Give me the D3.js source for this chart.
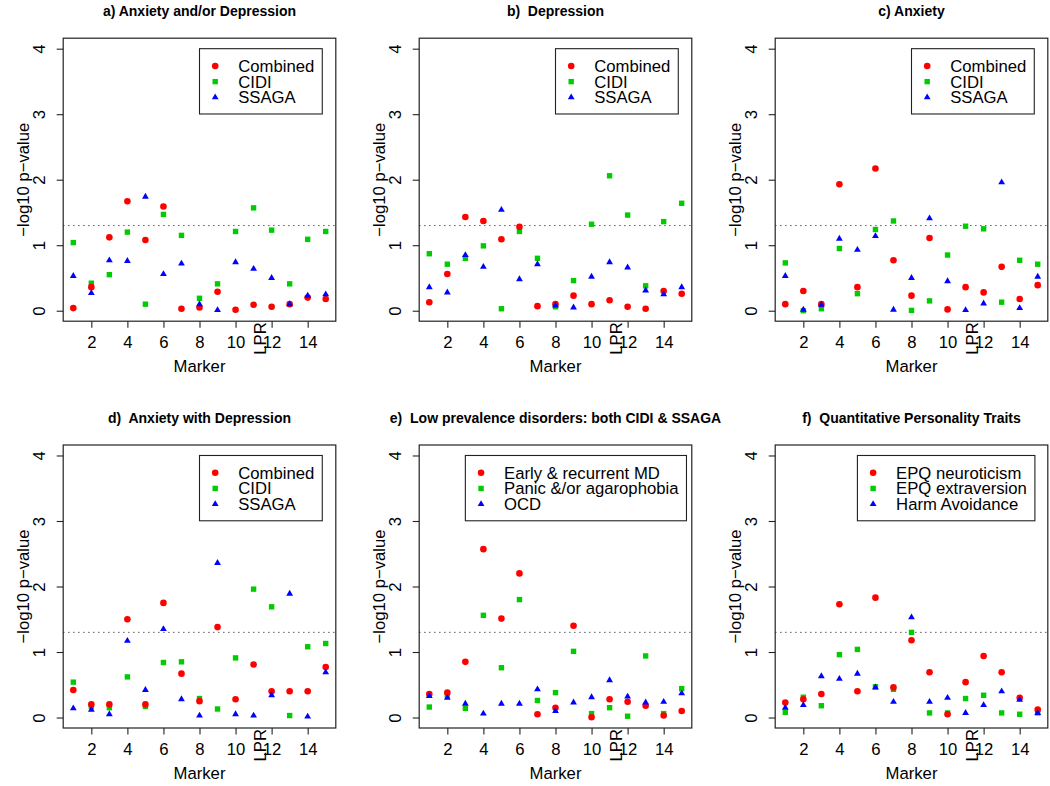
<!DOCTYPE html>
<html>
<head>
<meta charset="utf-8">
<script src="https://cdn.jsdelivr.net/npm/d3@7"></script>
<style>
  body { margin: 0; background: #fff; }
  svg { font-family: "Liberation Sans", Arial, Helvetica, sans-serif; }
</style>
</head>
<body>
<div id="chart"></div>
<script>
// ------------------------------------------------------------------ //
// DATA  (-log10 p-values read per marker)
// ------------------------------------------------------------------ //
const markers = [1, 2, 3, 4, 5, 6, 7, 8, 9, 10, 11, 12, 13, 14, 15];
const xTicks = [2, 4, 6, 8, 10, 12, 14];
const lprMarker = 11;
const lprLabel = "LPR";
const yTicks = [0, 1, 2, 3, 4];
const threshold = 1.3;

// a) Anxiety and/or Depression
const aCombined = [0.04, 0.36, 1.12, 1.67, 1.08, 1.59, 0.03, 0.05, 0.29, 0.015, 0.09, 0.06, 0.10, 0.20, 0.18];
const aCIDI     = [1.04, 0.42, 0.55, 1.20, 0.10, 1.47, 1.15, 0.19, 0.41, 1.21, 1.57, 1.23, 0.41, 1.09, 1.21];
const aSSAGA    = [0.53, 0.27, 0.77, 0.76, 1.74, 0.56, 0.72, 0.10, 0.01, 0.74, 0.64, 0.50, 0.10, 0.23, 0.25];

// b) Depression
const bCombined = [0.13, 0.56, 1.43, 1.37, 1.09, 1.28, 0.07, 0.10, 0.23, 0.10, 0.16, 0.06, 0.03, 0.30, 0.26];
const bCIDI     = [0.87, 0.71, 0.80, 0.99, 0.03, 1.21, 0.80, 0.06, 0.46, 1.32, 2.06, 1.46, 0.38, 1.36, 1.64];
const bSSAGA    = [0.36, 0.28, 0.85, 0.67, 1.54, 0.48, 0.71, 0.08, 0.05, 0.52, 0.74, 0.66, 0.31, 0.25, 0.36];

// c) Anxiety
const cCombined = [0.10, 0.30, 0.10, 1.93, 0.36, 2.17, 0.77, 0.23, 1.11, 0.02, 0.36, 0.28, 0.67, 0.18, 0.39];
const cCIDI     = [0.73, 0.00, 0.03, 0.95, 0.26, 1.24, 1.37, 0.005, 0.15, 0.85, 1.29, 1.25, 0.13, 0.77, 0.71];
const cSSAGA    = [0.53, 0.015, 0.09, 1.10, 0.93, 1.14, 0.015, 0.50, 1.41, 0.45, 0.01, 0.11, 1.96, 0.04, 0.52];

// d) Anxiety with Depression
const dCombined = [0.42, 0.20, 0.20, 1.50, 0.20, 1.75, 0.67, 0.25, 1.38, 0.28, 0.81, 0.40, 0.40, 0.40, 0.77];
const dCIDI     = [0.54, 0.17, 0.15, 0.62, 0.17, 0.84, 0.85, 0.29, 0.13, 0.91, 1.96, 1.69, 0.03, 1.08, 1.13];
const dSSAGA    = [0.14, 0.12, 0.05, 1.17, 0.42, 1.35, 0.28, 0.03, 2.36, 0.05, 0.03, 0.34, 1.89, 0.015, 0.69];

// e) Low prevalence disorders
const eEarlyMD  = [0.36, 0.38, 0.85, 2.57, 1.51, 2.20, 0.05, 0.15, 1.40, 0.005, 0.28, 0.24, 0.18, 0.03, 0.10];
const ePanic    = [0.16, 0.34, 0.14, 1.56, 0.76, 1.80, 0.26, 0.38, 1.01, 0.06, 0.15, 0.02, 0.94, 0.06, 0.44];
const eOCD      = [0.33, 0.30, 0.21, 0.06, 0.21, 0.21, 0.43, 0.10, 0.23, 0.31, 0.57, 0.32, 0.23, 0.24, 0.37];

// f) Quantitative Personality Traits
const fNeuro    = [0.23, 0.28, 0.36, 1.73, 0.40, 1.83, 0.46, 1.18, 0.69, 0.05, 0.54, 0.94, 0.69, 0.30, 0.12];
const fExtra    = [0.08, 0.31, 0.18, 0.96, 1.04, 0.47, 0.43, 1.30, 0.07, 0.07, 0.29, 0.34, 0.07, 0.05, 0.07];
const fHarm     = [0.15, 0.19, 0.63, 0.59, 0.67, 0.46, 0.24, 1.53, 0.24, 0.30, 0.07, 0.19, 0.40, 0.27, 0.07];

const titles = [
  "a) Anxiety and/or Depression",
  "b)  Depression",
  "c) Anxiety",
  "d)  Anxiety with Depression",
  "e)  Low prevalence disorders: both CIDI & SSAGA",
  "f)  Quantitative Personality Traits"
];
const legendLabels = [
  ["Combined", "CIDI", "SSAGA"],
  ["Combined", "CIDI", "SSAGA"],
  ["Combined", "CIDI", "SSAGA"],
  ["Combined", "CIDI", "SSAGA"],
  ["Early & recurrent MD", "Panic &/or agarophobia", "OCD"],
  ["EPQ neuroticism", "EPQ extraversion", "Harm Avoidance"]
];
// series order: red circle, green square, blue triangle
const panelSeries = [
  [aCombined, aCIDI, aSSAGA],
  [bCombined, bCIDI, bSSAGA],
  [cCombined, cCIDI, cSSAGA],
  [dCombined, dCIDI, dSSAGA],
  [eEarlyMD, ePanic, eOCD],
  [fNeuro, fExtra, fHarm]
];
const legendAtMarker = [8, 8, 8, 8, 3, 5];

// ------------------------------------------------------------------ //
// LAYOUT
// ------------------------------------------------------------------ //
const W = 1050, H = 786;
const colLeft = [63.2, 419.2, 775.2];
const rowTop = [38.2, 445.0];
const boxW = 272.6, boxH = 283;
const fs = 16.7;

const colors = ["#FF0000", "#00CD00", "#0000FF"];
const shapes = ["circle", "square", "triangle"];

const svg = d3.select("#chart").append("svg")
  .attr("width", W)
  .attr("height", H);

svg.append("rect").attr("width", W).attr("height", H).attr("fill", "#fff");

// marker shape drawer
function drawMark(g, shape, cx, cy, color) {
  if (shape === "circle") {
    g.append("circle").attr("cx", cx).attr("cy", cy).attr("r", 3.3).attr("fill", color);
  } else if (shape === "square") {
    g.append("rect").attr("x", cx - 2.7).attr("y", cy - 2.7)
      .attr("width", 5.4).attr("height", 5.4).attr("fill", color);
  } else {
    g.append("path")
      .attr("d", "M" + cx + "," + (cy - 3.9) + "L" + (cx + 3.4) + "," + (cy + 2.0) +
                 "L" + (cx - 3.4) + "," + (cy + 2.0) + "Z")
      .attr("fill", color);
  }
}

// ------------------------------------------------------------------ //
// PANELS
// ------------------------------------------------------------------ //
panelSeries.forEach(function(series, p) {
  const left = colLeft[p % 3];
  const top = rowTop[Math.floor(p / 3)];

  const x = d3.scaleLinear().domain([0.44, 15.56]).range([left, left + boxW]);
  const y = d3.scaleLinear().domain([-0.16, 4.16]).range([top + boxH, top]);

  const g = svg.append("g");

  // title
  g.append("text")
    .attr("x", left + boxW / 2)
    .attr("y", top - 22)
    .attr("text-anchor", "middle")
    .attr("font-weight", "bold")
    .attr("font-size", 14)
    .style("white-space", "pre")
    .text(titles[p]);

  // x axis
  const xAxis = g.append("g")
    .attr("transform", "translate(0," + (top + boxH) + ")")
    .call(d3.axisBottom(x).tickValues(xTicks).tickSize(6.5).tickPadding(8.2));
  xAxis.select(".domain").remove();
  xAxis.attr("font-size", fs).attr("font-family", null);
  xAxis.selectAll("line").attr("stroke", "#222").attr("stroke-width", 1.1);
  xAxis.selectAll("text").attr("fill", "#000");

  // LPR label (rotated)
  g.append("text")
    .attr("transform", "translate(" + (x(lprMarker) + 12) + "," + (top + boxH + 1) + ") rotate(-90)")
    .attr("text-anchor", "end")
    .attr("font-size", fs)
    .text(lprLabel);

  // y axis
  const yAxis = g.append("g")
    .attr("transform", "translate(" + left + ",0)")
    .call(d3.axisLeft(y).tickValues(yTicks).tickSize(6.5).tickFormat(d3.format("d")));
  yAxis.select(".domain").remove();
  yAxis.attr("font-size", fs).attr("font-family", null);
  yAxis.selectAll("line").attr("stroke", "#222").attr("stroke-width", 1.1);
  yAxis.selectAll("text")
    .attr("fill", "#000")
    .attr("x", 0)
    .attr("y", -18)
    .attr("dy", 0)
    .attr("text-anchor", "middle")
    .attr("transform", "rotate(-90)");

  // axis titles
  g.append("text")
    .attr("x", left + boxW / 2)
    .attr("y", top + boxH + 50.5)
    .attr("text-anchor", "middle")
    .attr("font-size", fs)
    .text("Marker");

  g.append("text")
    .attr("transform", "translate(" + (left - 34.5) + "," + (top + boxH / 2) + ") rotate(-90)")
    .attr("text-anchor", "middle")
    .attr("font-size", fs)
    .text("\u2212log10 p\u2212value");

  // significance line
  g.append("line")
    .attr("x1", left).attr("x2", left + boxW)
    .attr("y1", y(threshold)).attr("y2", y(threshold))
    .attr("stroke", "#444")
    .attr("stroke-width", 1)
    .attr("stroke-dasharray", "1.3,3.7");

  // points: green first, then red, then blue
  const pts = g.append("g");
  [1, 0, 2].forEach(function(s) {
    series[s].forEach(function(v, i) {
      drawMark(pts, shapes[s], x(markers[i]), y(v), colors[s]);
    });
  });

  // legend
  const lg = g.append("g");
  const lx = x(legendAtMarker[p]);
  const ly = y(4);
  const box = lg.append("rect")
    .attr("x", lx).attr("y", ly)
    .attr("height", 65.3)
    .attr("fill", "#fff")
    .attr("stroke", "#222")
    .attr("stroke-width", 1.1);
  let maxW = 0;
  legendLabels[p].forEach(function(lab, k) {
    const ry = ly + 17.3 + k * 15.65;
    drawMark(lg, shapes[k], lx + 15.7, ry, colors[k]);
    const t = lg.append("text")
      .attr("x", lx + 38.7)
      .attr("y", ry + 6)
      .attr("font-size", fs)
      .text(lab);
    maxW = Math.max(maxW, t.node().getComputedTextLength());
  });
  box.attr("width", 38.7 + maxW + 8);

  // plot box
  g.append("rect")
    .attr("x", left).attr("y", top)
    .attr("width", boxW).attr("height", boxH)
    .attr("fill", "none")
    .attr("stroke", "#222")
    .attr("stroke-width", 1.2);
});
</script>
</body>
</html>
